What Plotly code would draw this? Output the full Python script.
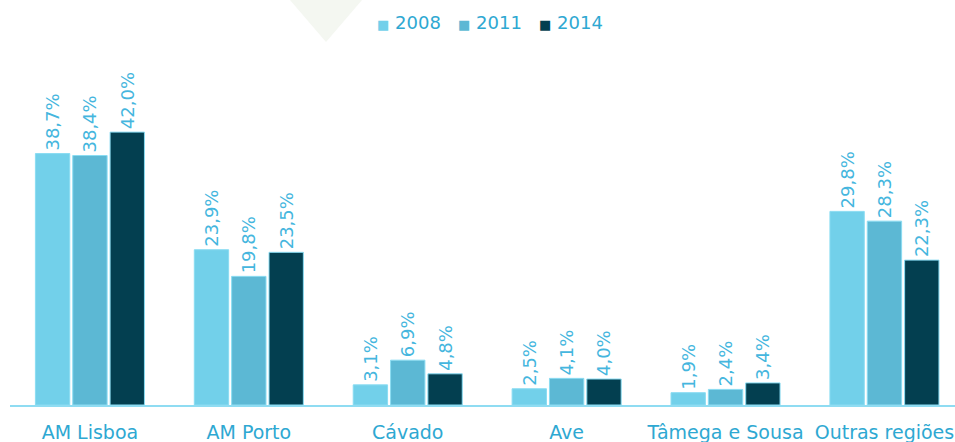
import plotly.graph_objects as go

categories = ["AM Lisboa", "AM Porto", "Cávado", "Ave", "Tâmega e Sousa", "Outras regiões"]
series_names = ["2008", "2011", "2014"]
values_2008 = [38.7, 23.9, 3.1, 2.5, 1.9, 29.8]
values_2011 = [38.4, 19.8, 6.9, 4.1, 2.4, 28.3]
values_2014 = [42.0, 23.5, 4.8, 4.0, 3.4, 22.3]
colors = ["#72d0ea", "#5cb8d4", "#033f50"]

fig = go.Figure()
for name, vals, col in zip(series_names, [values_2008, values_2011, values_2014], colors):
    fig.add_trace(go.Bar(
        x=categories, y=vals, name=name,
        marker=dict(color=col, line=dict(color="#8adcf2", width=1)),
        text=[f"{v:.1f}%".replace(".", ",") for v in vals],
        textposition="outside", textangle=-90, constraintext="none",
        textfont=dict(family="DejaVu Sans", size=18, color="#45b6de"),
        cliponaxis=False, showlegend=False,
    ))

legend_text = "&nbsp;&nbsp;&nbsp;".join(
    f"<span style='color:{c};font-size:13px'>■</span>&nbsp;{n}"
    for n, c in zip(series_names, colors)
)

fig.update_layout(
    width=955, height=442,
    margin=dict(l=10, r=0, t=60, b=37, autoexpand=False),
    paper_bgcolor="white", plot_bgcolor="white",
    barmode="group", bargap=0.295, bargroupgap=0.08,
    font=dict(family="DejaVu Sans", color="#2ea8d2"),
    xaxis=dict(type="category", range=[-0.503, 5.444],
               showline=True, linecolor="#8fdcf2", linewidth=2,
               showgrid=False, ticks="", ticklabelstandoff=9,
               tickfont=dict(size=19, color="#2ea8d2")),
    yaxis=dict(range=[0, 53.1], visible=False, showgrid=False, zeroline=False),
    annotations=[dict(text=legend_text, xref="paper", yref="paper",
                      x=0.508, y=1.11, xanchor="center", yanchor="middle",
                      showarrow=False, font=dict(size=18, color="#2ea8d2"))],
    shapes=[dict(type="path", xref="paper", yref="paper",
                 path="M 0.2963 1.1739 L 0.3725 1.1739 L 0.3344 1.0522 Z",
                 fillcolor="#f4f7f1", line=dict(width=0), layer="below")],
)
fig.write_html("out.html", config={"displayModeBar": False},
               post_script="document.body.style.margin='0';")
